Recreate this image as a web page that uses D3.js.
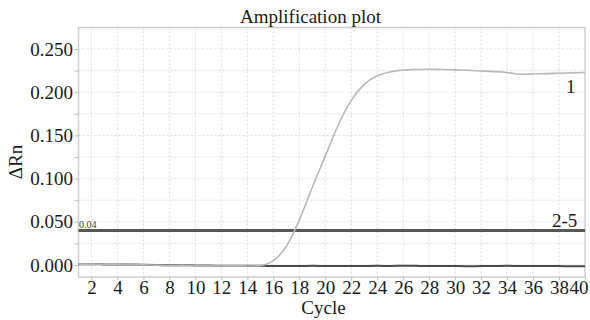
<!DOCTYPE html>
<html>
<head>
<meta charset="utf-8">
<script src="https://cdn.jsdelivr.net/npm/d3@7"></script>
<style>
  body { margin: 0; background: #fff; }
  text { font-family: "Liberation Serif", "Times New Roman", Tinos, Times, "DejaVu Serif", "Noto Serif", serif; fill: #1a1a1a; }
</style>
</head>
<body>
<div id="container"></div>
<script>
// cycle numbers
const cycles = [1, 2, 3, 4, 5, 6, 7, 8, 9, 10, 11, 12, 13, 14, 15, 16, 17, 18, 19, 20,
    21, 22, 23, 24, 25, 26, 27, 28, 29, 30, 31, 32, 33, 34, 35, 36, 37, 38, 39, 40];

// sample 1 delta Rn
const sample1 = [0.0010, 0.0010, 0.0008, 0.0006, 0.0004, 0.0002, -0.0002, -0.0006, -0.0004, -0.0007,
    -0.0009, -0.0010, -0.0010, -0.0011, -0.0006, 0.0050, 0.0215, 0.0520, 0.0900, 0.1260,
    0.1620, 0.1905, 0.2090, 0.2190, 0.2235, 0.2257, 0.2262, 0.2265, 0.2263, 0.2258,
    0.2254, 0.2246, 0.2238, 0.2228, 0.2207, 0.2210, 0.2215, 0.2219, 0.2224, 0.2228];

// samples 2-5 (overlapping, flat)
const samples2to5 = [0.0008, 0.0008, 0.0007, 0.0006, 0.0005, 0.0003, 0.0000, -0.0004, -0.0003, -0.0005,
    -0.0007, -0.0008, -0.0009, -0.0010, -0.0010, -0.0011, -0.0011, -0.0012, -0.0010, -0.0011,
    -0.0012, -0.0012, -0.0011, -0.0010, -0.0011, -0.0008, -0.0010, -0.0012, -0.0011, -0.0013,
    -0.0014, -0.0013, -0.0012, -0.0010, -0.0012, -0.0013, -0.0013, -0.0013, -0.0014, -0.0014];

const threshold = 0.04;

const xTicks = [2, 4, 6, 8, 10, 12, 14, 16, 18, 20, 22, 24, 26, 28, 30, 32, 34, 36, 38, 40];
const yTicks = [0.000, 0.050, 0.100, 0.150, 0.200, 0.250];
const yGrid = [0.000, 0.025, 0.050, 0.075, 0.100, 0.125, 0.150, 0.175, 0.200, 0.225, 0.250];

const serif = '"Liberation Serif", "Times New Roman", Tinos, Times, "DejaVu Serif", "Noto Serif", serif';

const margin = { top: 27.5, right: 5, bottom: 43, left: 78.5 },
    width = 590 - margin.left - margin.right,
    height = 320 - margin.top - margin.bottom;

const svg = d3.select("#container")
    .append("svg")
    .attr("width", 590)
    .attr("height", 320)
    .style("font-family", serif);

const g = svg.append("g")
    .attr("transform", `translate(${margin.left}, ${margin.top})`);

const x = d3.scaleLinear()
    .domain([1, 40])
    .range([0, width]);

const y = d3.scaleLinear()
    .domain([-0.01389, 0.27488])
    .range([height, 0]);

// grid
g.selectAll(".hgrid")
    .data(yGrid)
    .enter()
    .append("line")
    .attr("x1", 0).attr("x2", width)
    .attr("y1", d => y(d)).attr("y2", d => y(d))
    .attr("stroke", "#dcdcdc")
    .attr("stroke-dasharray", "2,2");

g.selectAll(".vgrid")
    .data(xTicks.slice(0, -1))
    .enter()
    .append("line")
    .attr("x1", d => x(d)).attr("x2", d => x(d))
    .attr("y1", 0).attr("y2", height)
    .attr("stroke", "#dcdcdc")
    .attr("stroke-dasharray", "2,2");

// frame
g.append("rect")
    .attr("width", width)
    .attr("height", height)
    .attr("fill", "none")
    .attr("stroke", "#cfcfcf")
    .attr("stroke-width", 1.5);

// Y axis
const yAxis = g.append("g")
    .call(d3.axisLeft(y).tickValues(yGrid).tickSize(4).tickFormat(d => yTicks.some(t => Math.abs(t - d) < 1e-9) ? d3.format(".3f")(d) : ""));
yAxis.attr("font-family", null);
yAxis.select(".domain").remove();
yAxis.selectAll("line").attr("stroke", "#bdbdbd");
yAxis.selectAll("text")
    .attr("x", -5.5)
    .style("font-size", "19px")
    .style("font-family", serif);

// X axis
const xAxis = g.append("g")
    .attr("transform", `translate(0, ${height})`)
    .call(d3.axisBottom(x).tickValues(xTicks).tickSize(3).tickFormat(d3.format("d")));
xAxis.attr("font-family", null);
xAxis.select(".domain").remove();
xAxis.selectAll("line").attr("stroke", "#bdbdbd");
xAxis.selectAll("text")
    .attr("y", 4)
    .style("font-size", "19px")
    .style("font-family", serif);
// last label is pulled in so it stays inside the picture
xAxis.selectAll("text").filter(d => d === 40)
    .attr("text-anchor", "end")
    .attr("x", 3);

// threshold
g.append("line")
    .attr("x1", 0).attr("x2", width)
    .attr("y1", y(threshold)).attr("y2", y(threshold))
    .attr("stroke", "#575757")
    .attr("stroke-width", 3);

g.append("text")
    .attr("x", 0.5)
    .attr("y", y(threshold) - 2.5)
    .style("font-size", "10px")
    .style("fill", "#3c3c3c")
    .text(threshold.toFixed(2));

const line = d3.line()
    .x((d, i) => x(cycles[i]))
    .y(d => y(d))
    .curve(d3.curveMonotoneX);

g.append("path")
    .datum(samples2to5)
    .attr("d", line)
    .attr("fill", "none")
    .attr("stroke", "#4a4a4a")
    .attr("stroke-width", 2);

g.append("path")
    .datum(sample1)
    .attr("d", line)
    .attr("fill", "none")
    .attr("stroke", "#b8b8b8")
    .attr("stroke-width", 1.6);

// curve labels
g.append("text")
    .attr("x", x(38.9))
    .attr("y", y(0.2265) + 24)
    .attr("text-anchor", "middle")
    .style("font-size", "19px")
    .text("1");

g.append("text")
    .attr("x", x(39.4))
    .attr("y", y(threshold) - 3.5)
    .attr("text-anchor", "end")
    .style("font-size", "19px")
    .text("2-5");

// titles
svg.append("text")
    .attr("x", 310.5)
    .attr("y", 23)
    .attr("text-anchor", "middle")
    .style("font-size", "19px")
    .text("Amplification plot");

svg.append("text")
    .attr("x", 323.5)
    .attr("y", 314)
    .attr("text-anchor", "middle")
    .style("font-size", "19px")
    .text("Cycle");

svg.append("text")
    .attr("transform", "translate(22, 162) rotate(-90)")
    .attr("text-anchor", "middle")
    .style("font-size", "19px")
    .text("ΔRn");
</script>
</body>
</html>
